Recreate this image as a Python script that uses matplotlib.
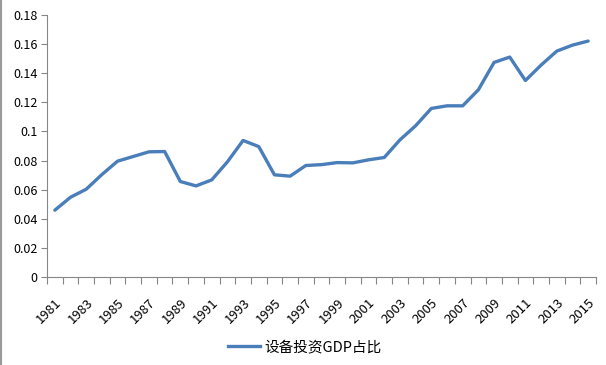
import numpy as np
import matplotlib.pyplot as plt
from matplotlib.lines import Line2D

plt.rcParams['font.family'] = ['Noto Sans CJK SC', 'DejaVu Sans']

years = list(range(1981, 2016))
ratio = [0.0459, 0.0548, 0.0603, 0.0704, 0.0796, 0.0828, 0.0860, 0.0862,
         0.0656, 0.0626, 0.0667, 0.0791, 0.0938, 0.0896, 0.0702, 0.0693,
         0.0766, 0.0772, 0.0786, 0.0784, 0.0805, 0.0821, 0.0942, 0.1039,
         0.1158, 0.1176, 0.1176, 0.1286, 0.1474, 0.1511, 0.1350, 0.1456,
         0.1552, 0.1593, 0.1621]
series_name = '设备投资GDP占比'
yticks = [0, 0.02, 0.04, 0.06, 0.08, 0.1, 0.12, 0.14, 0.16, 0.18]

fig = plt.figure(figsize=(6.06, 3.65), dpi=100)
ax = fig.add_axes([47/606, 1 - 277/365, 549/606, 262/365])

x = np.arange(len(years))
ax.plot(x, ratio, color='#4A7EBB', lw=2.4, solid_joinstyle='round',
        solid_capstyle='round', label=series_name)

ax.set_xlim(-0.5, len(years) - 0.5)
ax.set_ylim(0, 0.18)

ax.set_yticks(yticks)
ax.set_yticklabels([f'{v:g}' for v in yticks], fontsize=9)
ax.set_xticks(x[::2])
ax.set_xticklabels([str(y) for y in years[::2]], rotation=45, ha='right',
                   rotation_mode='anchor', fontsize=9.5)
ax.set_xticks(np.arange(-0.5, len(years)), minor=True)
ax.tick_params(axis='x', which='major', length=0, pad=14)
ax.tick_params(axis='x', which='minor', length=5, color='#868686', width=0.8)
ax.tick_params(axis='y', length=4, color='#868686', width=0.8, pad=3)

for side in ['top', 'right']:
    ax.spines[side].set_visible(False)
for side in ['left', 'bottom']:
    ax.spines[side].set_color('#868686')
    ax.spines[side].set_linewidth(0.8)

fig.legend(handles=[Line2D([], [], color='#4A7EBB', lw=2.4)], labels=[series_name],
           loc='center', bbox_to_anchor=(0.503, 1 - 347/365), frameon=False,
           fontsize=10.5, handlelength=2.2, handletextpad=0.25)

fig.add_artist(Line2D([0.001, 0.001], [0, 1], color='#9a9a9a', lw=1.5,
                      transform=fig.transFigure))

fig.savefig('out.png', dpi=100)
